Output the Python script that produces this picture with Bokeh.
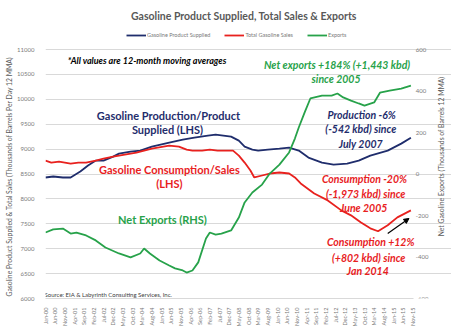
import math
from bokeh.plotting import figure
from bokeh.models import (Range1d, FixedTicker, Label, Legend, LegendItem,
                          Arrow, NormalHead, Title)
from bokeh.embed import file_html
from bokeh.resources import INLINE

# ---- data (month index: 0 = Jan-00) ----
tick_labels = ["Jan-00", "Jun-00", "Nov-00", "Apr-01", "Sep-01", "Feb-02", "Jul-02", "Dec-02",
               "May-03", "Oct-03", "Mar-04", "Aug-04", "Jan-05", "Jun-05", "Nov-05", "Apr-06",
               "Sep-06", "Feb-07", "Jul-07", "Dec-07", "May-08", "Oct-08", "Mar-09", "Aug-09",
               "Jan-10", "Jun-10", "Nov-10", "Apr-11", "Sep-11", "Feb-12", "Jul-12", "Dec-12",
               "May-13", "Oct-13", "Mar-14", "Aug-14", "Jan-15", "Jun-15", "Nov-15"]
tick_months = [i * 5 for i in range(len(tick_labels))]

supplied_month = [0, 4, 9, 13, 18, 22, 26, 30, 35, 38, 44, 49, 55, 64, 71, 77, 84, 88, 92, 96,
                  100, 103, 107, 110, 115, 121, 126, 131, 136, 143, 149, 156, 162, 168, 177, 184, 189]
supplied_kbd = [8430, 8450, 8430, 8430, 8550, 8670, 8770, 8770, 8850, 8910, 8950, 8970, 9050, 9130,
                9190, 9230, 9270, 9290, 9270, 9250, 9170, 9050, 8990, 8970, 8990, 9010, 9030, 8970,
                8830, 8730, 8690, 8710, 8770, 8870, 8970, 9110, 9230]

sales_month = [0, 3, 7, 13, 17, 21, 26, 30, 35, 38, 44, 47, 51, 55, 61, 64, 69, 73, 76, 81, 85, 89,
               93, 97, 100, 103, 106, 108, 112, 116, 121, 126, 129, 132, 139, 146, 153, 158, 163,
               168, 172, 177, 182, 189]
sales_kbd = [8770, 8730, 8750, 8710, 8730, 8730, 8770, 8810, 8850, 8870, 8910, 8930, 8970, 9010,
             9050, 9070, 9050, 8990, 8970, 8970, 8990, 8970, 8970, 8970, 8870, 8730, 8570, 8430,
             8470, 8510, 8530, 8510, 8430, 8310, 8110, 7970, 7770, 7670, 7530, 7410, 7350, 7470,
             7630, 7770]

exports_month = [0, 4, 9, 13, 16, 21, 26, 31, 38, 44, 49, 51, 54, 59, 64, 67, 71, 73, 76, 79, 83,
                 85, 88, 91, 96, 100, 103, 107, 112, 116, 121, 126, 129, 131, 134, 137, 143, 148,
                 151, 154, 158, 162, 165, 170, 173, 178, 184, 189]
exports_kbd = [-282, -267, -263, -287, -282, -296, -320, -354, -383, -402, -383, -359, -383, -417,
               -441, -455, -465, -475, -465, -426, -311, -282, -292, -287, -272, -210, -137, -89,
               -51, 2, 45, 104, 171, 224, 296, 364, 378, 378, 388, 369, 354, 340, 330, 345, 392,
               402, 412, 426]

arrow_month = [177, 188]
arrow_kbd = [7305, 7607]

left_ticks = [6000, 6500, 7000, 7500, 8000, 8500, 9000, 9500, 10000, 10500, 11000]
right_ticks = [-600, -400, -200, 0, 200, 400, 600]

NAVY = "#1f2d6c"
RED = "#e8211e"
GREEN = "#27a24a"
GRAY = "#7a7a7a"
FONT = "Lato"

X_END = 190.5      # last month of the plotting area
# The frame is extended upward (title, legend) and to the right (secondary scale texts) so that
# those texts are never clipped; 11000/600 and Nov-15 keep the same pixel positions.
p = figure(width=451, height=329, output_backend="svg", toolbar_location=None,
           x_range=Range1d(0, 210.0), y_range=Range1d(6000, 11904),
           min_border_left=42, min_border_right=0, min_border_top=4, min_border_bottom=31)
p.extra_y_ranges = {"exp": Range1d(-600, 817)}
p.outline_line_color = None
p.background_fill_color = "white"
p.border_fill_color = "white"

r_sup = p.line(supplied_month, supplied_kbd, color=NAVY, line_width=1.8)
r_sal = p.line(sales_month, sales_kbd, color=RED, line_width=1.8)
r_exp = p.line(exports_month, exports_kbd, color=GREEN, line_width=1.8, y_range_name="exp")

p.add_layout(Arrow(end=NormalHead(size=5, fill_color="black", line_color="black"),
                   x_start=arrow_month[0], y_start=arrow_kbd[0],
                   x_end=arrow_month[1], y_end=arrow_kbd[1], line_color="black", line_width=1.2))

# grid
p.xgrid.visible = False
p.ygrid.ticker = FixedTicker(ticks=left_ticks)
p.ygrid.grid_line_color = "#d9d9d9"
p.ygrid.grid_line_width = 1
p.ygrid.bounds = (0, X_END)

# axes
xa = p.xaxis[0]
xa.ticker = FixedTicker(ticks=tick_months)
xa.bounds = (0, X_END)
xa.major_label_overrides = {m: l for m, l in zip(tick_months, tick_labels)}
xa.major_label_orientation = math.pi / 2
xa.major_label_text_font_size = "5.5px"
xa.major_label_text_color = GRAY
xa.major_label_text_font = FONT
xa.axis_line_color = "#d9d9d9"
xa.major_tick_line_color = None
xa.minor_tick_line_color = None
xa.major_label_standoff = 3

ya = p.yaxis[0]
ya.ticker = FixedTicker(ticks=left_ticks)
ya.axis_line_color = None
ya.major_tick_line_color = None
ya.minor_tick_line_color = None
ya.major_label_text_font_size = "6px"
ya.major_label_text_color = GRAY
ya.major_label_text_font = FONT
ya.major_label_standoff = 5

p.add_layout(Title(text="Gasoline Product Supplied & Total Sales (Thousands of Barrels Per Day 12 MMA)",
                   align="left", offset=2, text_font=FONT, text_font_size="6.8px",
                   text_font_style="normal", text_color="#595959", standoff=4), "left")

# secondary (exports) scale: tick texts and title, placed through the "exp" range
for t in right_ticks:
    p.add_layout(Label(x=191.5, y=t, y_range_name="exp", text=str(t), text_font=FONT,
                       text_font_size="6px", text_color=GRAY, text_align="left",
                       text_baseline="middle"))
p.add_layout(Label(x=204.4, y=8851, text="Net Gasoline Exports (Thousands of Barrels 12 MMA)",
                   angle=math.pi / 2, text_font=FONT, text_font_size="6.8px",
                   text_color="#595959", text_align="center", text_baseline="middle"))

# legend (inside the extended frame, above the plotting area)
legend = Legend(items=[LegendItem(label="Gasoline Product Supplied", renderers=[r_sup]),
                       LegendItem(label="Total Gasoline Sales", renderers=[r_sal]),
                       LegendItem(label="Exports", renderers=[r_exp])],
                orientation="horizontal", location=(81, 260),
                label_text_font_size="5.5px", label_text_color=GRAY, label_text_font=FONT,
                glyph_width=20, glyph_height=6, label_standoff=1, spacing=14,
                padding=0, margin=0, border_line_color=None, background_fill_alpha=0,
                label_height=6)
p.add_layout(legend, "center")


def note(x, y, text, color, size, style="bold", align="center"):
    p.add_layout(Label(x=x, y=y, text=text, text_color=color, text_font=FONT,
                       text_font_size=size, text_font_style=style, text_align=align,
                       text_baseline="middle"))


note(102.6, 11683, "Gasoline Product Supplied, Total Sales & Exports", "#595959", "10.5px")

note(11.5, 10779, "*All values are 12-month moving averages", "black", "9px", "bold italic", "left")
note(63.6, 9675, "Gasoline Production/Product", NAVY, "11px")
note(63.1, 9394, "Supplied (LHS)", NAVY, "11px")
note(64.1, 8590, "Gasoline Consumption/Sales", RED, "11px")
note(64.1, 8309, "(LHS)", RED, "11px")
note(60.5, 7586, "Net Exports (RHS)", GREEN, "11px")
note(150.8, 10699, "Net exports +184% (+1,443 kbd)", GREEN, "10.5px", "bold italic")
note(150.3, 10398, "since 2005", GREEN, "10.5px", "bold italic")
note(164.1, 9695, "Production  -6%", NAVY, "10.5px", "bold italic")
note(163.1, 9394, "(-542 kbd) since", NAVY, "10.5px", "bold italic")
note(163.1, 9112, "July 2007", NAVY, "10.5px", "bold italic")
note(165.6, 8390, "Consumption  -20%", RED, "10.5px", "bold italic")
note(165.6, 8108, "(-1,973 kbd) since", RED, "10.5px", "bold italic")
note(164.6, 7827, "June 2005", RED, "10.5px", "bold italic")
note(168.2, 7125, "Consumption +12%", RED, "10.5px", "bold italic")
note(167.2, 6823, "(+802 kbd) since", RED, "10.5px", "bold italic")
note(166.7, 6562, "Jan 2014", RED, "10.5px", "bold italic")
note(-0.5, 6090, "Source: EIA & Labyrinth Consulting Services, Inc.", "#404040", "6px", "normal", "left")

open("out.html", "w").write(file_html(p, INLINE))
